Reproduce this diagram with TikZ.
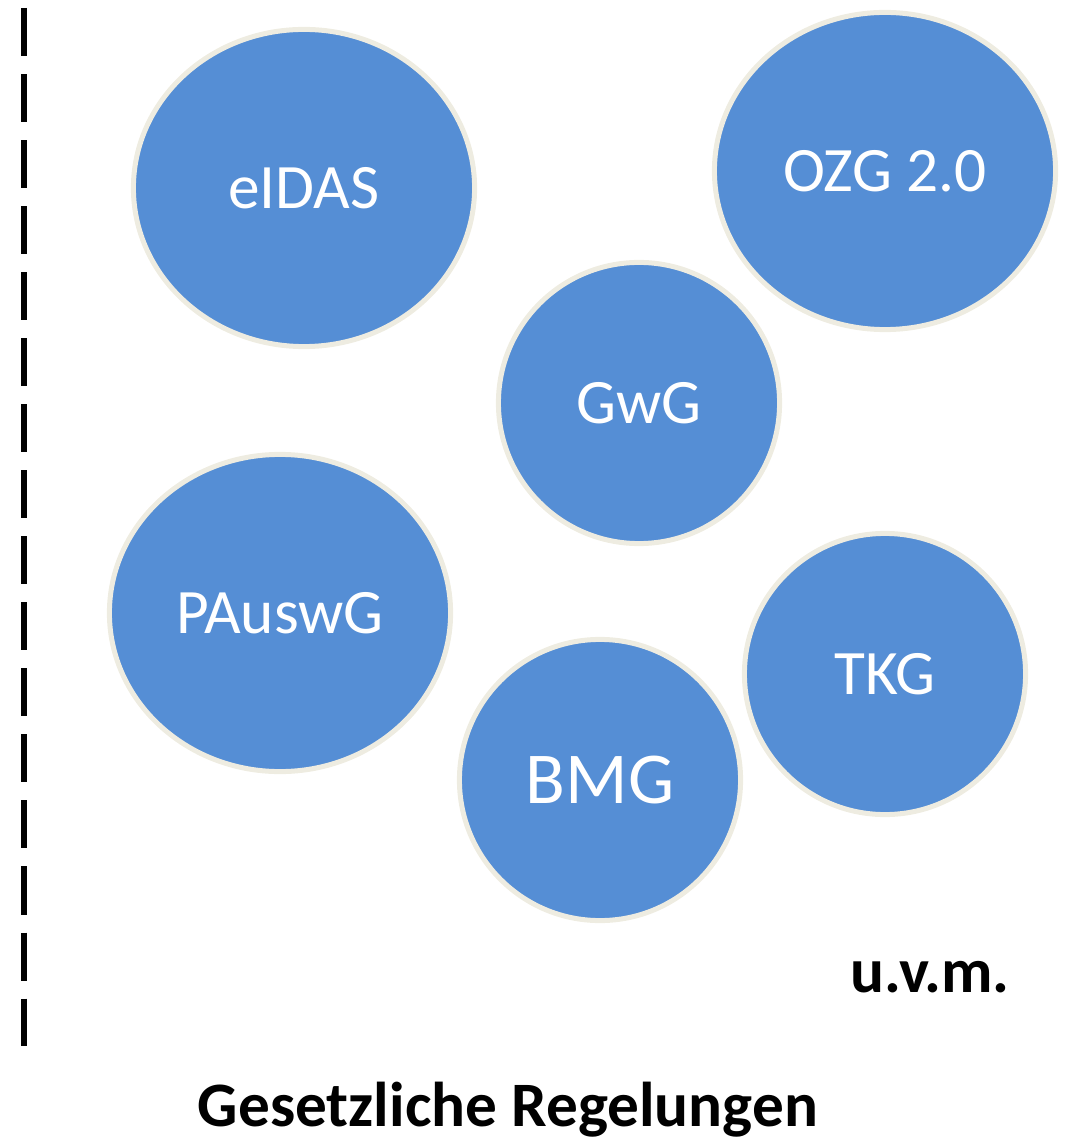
\documentclass[tikz,border=0pt]{standalone}
\usepackage{fontspec}
\setmainfont{Carlito}
\usepackage{xcolor}
\usepackage{tikz}
\usetikzlibrary{shapes.geometric}
\definecolor{gesetzblau}{HTML}{558ED5}
\definecolor{randfarbe}{HTML}{EEECE1}
\tikzstyle{gesetz} = [ellipse, draw=randfarbe, fill=gesetzblau, line width=0.5mm,
    text=white, inner sep=0pt, font=\fontsize{18}{22}\selectfont]
\tikzstyle{gross} = [gesetz, minimum width=3.41cm, minimum height=3.17cm]
\tikzstyle{klein} = [gesetz, minimum width=2.81cm, minimum height=2.81cm]
\tikzstyle{trenner} = [draw, line width=0.6mm, dash pattern=on 0.48cm off 0.18cm]
\tikzstyle{fett} = [font=\fontsize{18}{22}\selectfont\bfseries, anchor=base]

\begin{document}
\begin{tikzpicture}[x=0.01cm, y=-0.01cm]
    \useasboundingbox (0,0) rectangle (1074,1137);
    % Trennlinie links
    \coordinate (oben) at (24,8);
    \coordinate (unten) at (24,1046);
    \path [trenner] (oben) -- (unten);
    % Gesetze platzieren
    \node [gross] (eidas) at (304,188) {eIDAS};
    \node [gross] (ozg) at (885,171) {OZG 2.0};
    \node [klein] (gwg) at (639,403) {GwG};
    \node [gross] (pauswg) at (280,613) {PAuswG};
    \node [klein] (tkg) at (885,674) {TKG};
    \node [klein, font=\fontsize{20.8}{25}\selectfont] (bmg) at (600,780) {BMG};
    % Beschriftungen
    \node [fett] (uvm) at (930,992) {u.v.m.};
    \node [fett] (titel) at (508,1126) {Gesetzliche Regelungen};
\end{tikzpicture}
\end{document}
